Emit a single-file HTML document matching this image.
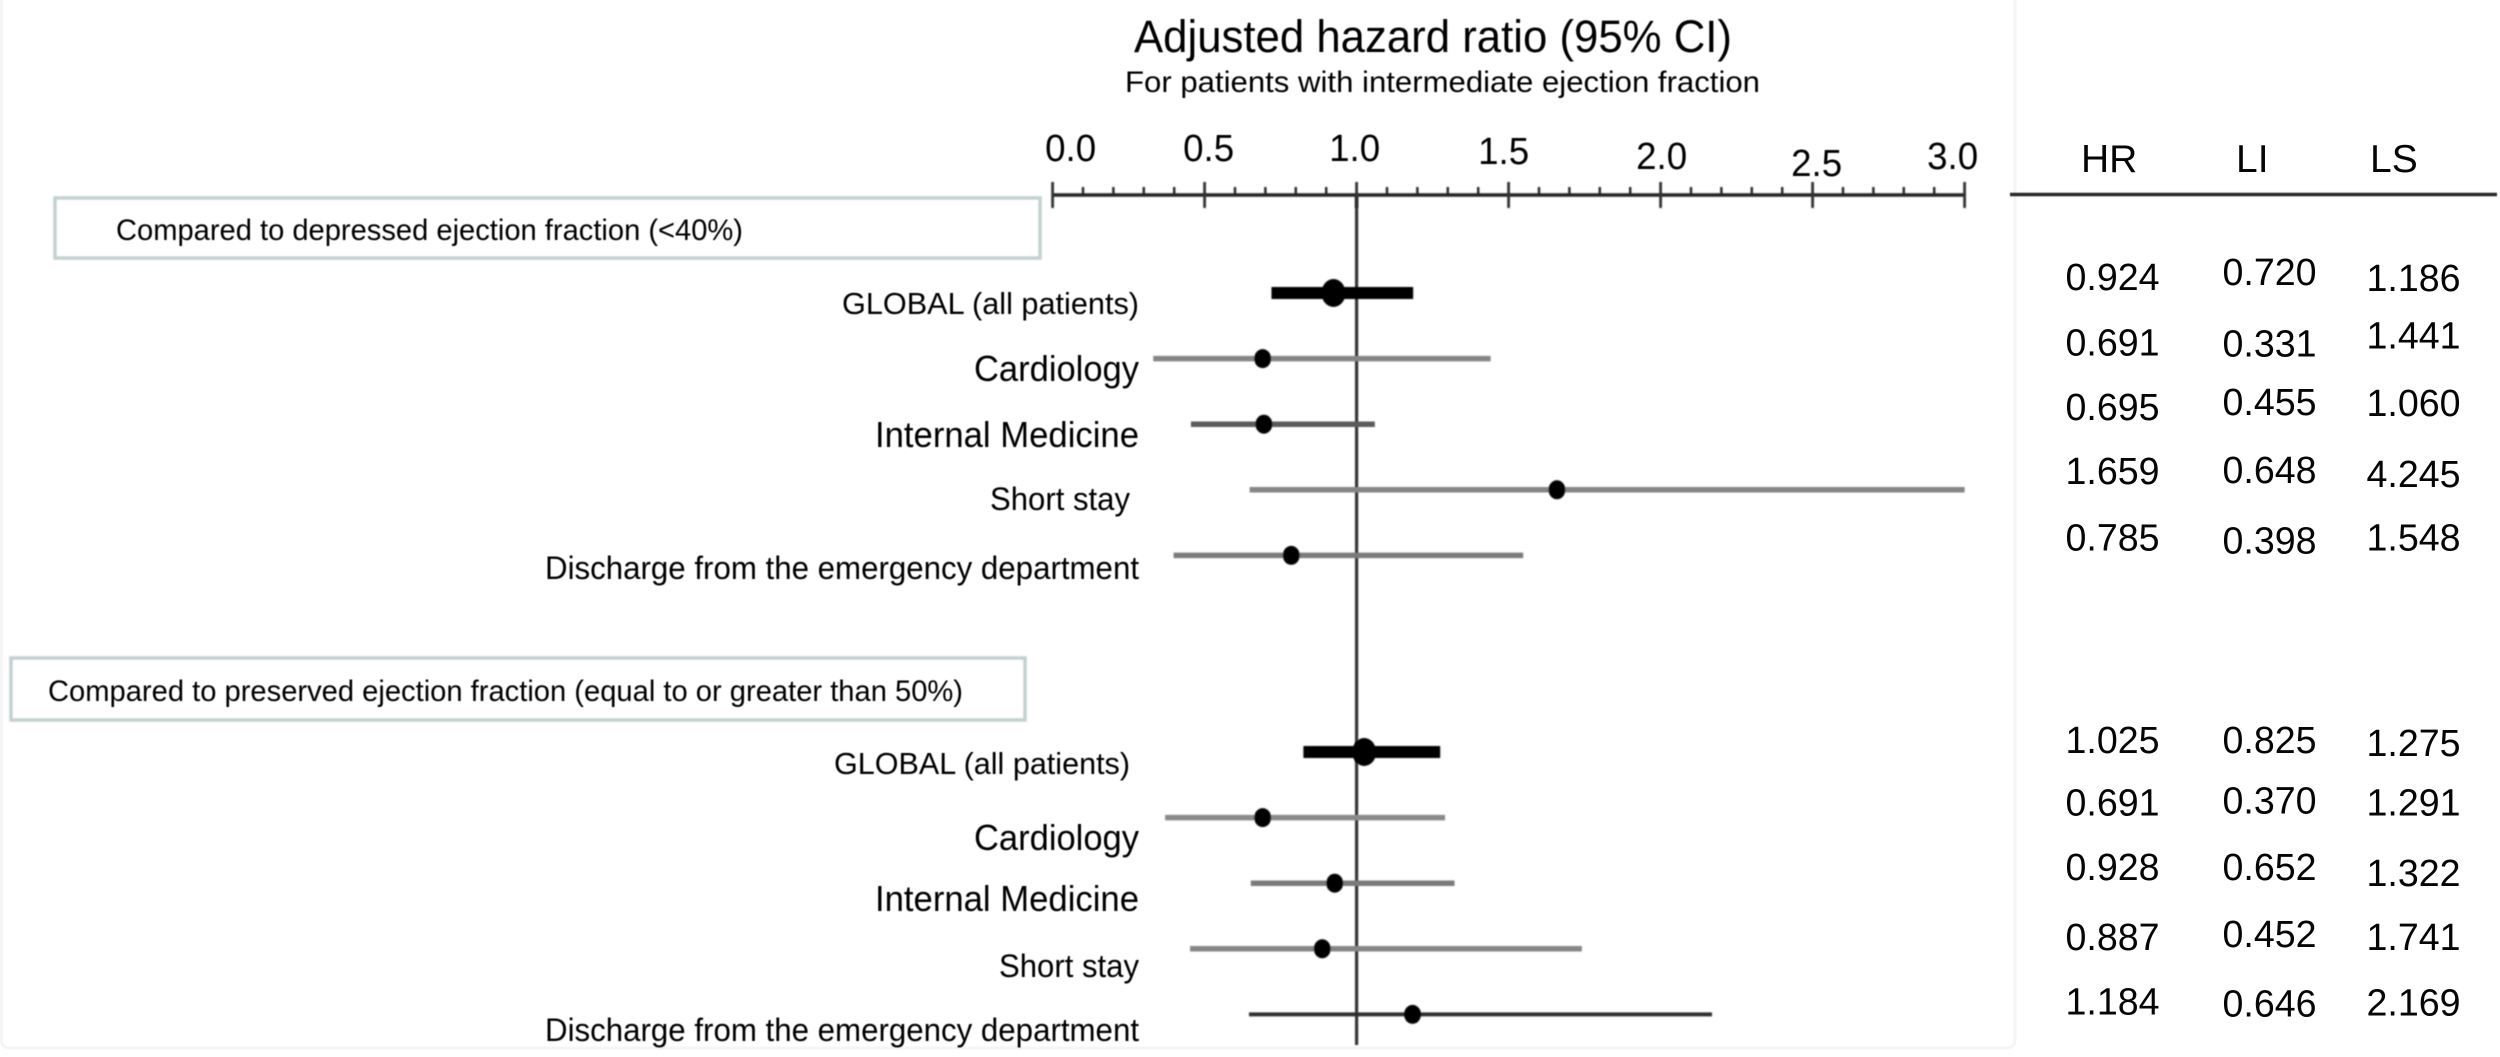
<!DOCTYPE html>
<html lang="en">
<head>
<meta charset="utf-8">
<title>Adjusted hazard ratio forest plot</title>
<style>
  html, body { margin: 0; padding: 0; background: #fff; }
  body { width: 2500px; height: 1057px; overflow: hidden; }
  svg { display: block; font-family: "Liberation Sans", Arial, sans-serif; }
  text { fill: #050505; }
</style>
</head>
<body>
<svg id="chart" width="2500" height="1057" viewBox="0 0 2500 1057" xmlns="http://www.w3.org/2000/svg">
  <defs>
    <filter id="soft" filterUnits="userSpaceOnUse" x="0" y="0" width="2500" height="1057"><feGaussianBlur stdDeviation="0.9"/></filter>
    <filter id="softbox" filterUnits="userSpaceOnUse" x="0" y="0" width="2500" height="1057"><feGaussianBlur stdDeviation="0.7"/></filter>
    <filter id="softtext" filterUnits="userSpaceOnUse" x="0" y="0" width="2500" height="1057"><feGaussianBlur stdDeviation="0.4"/></filter>
  </defs>

  <rect width="2500" height="1057" fill="#ffffff"/>
  <path d="M1.5 0V1040Q1.5 1048 10 1048H2006Q2015 1048 2015 1040V0" fill="none" stroke="#f5f5f5" stroke-width="3"/>

  <g filter="url(#softtext)">
    <text x="1134" y="52" font-size="45" textLength="598" lengthAdjust="spacingAndGlyphs">Adjusted hazard ratio (95% CI)</text>
    <text x="1125" y="92" font-size="30" textLength="635" lengthAdjust="spacingAndGlyphs">For patients with intermediate ejection fraction</text>
  </g>

  <g>
    <rect x="55" y="198" width="985" height="60" fill="#fff" stroke="#c2d0d0" stroke-width="3.5" filter="url(#softbox)"/>
    <text x="116" y="240" font-size="30" textLength="627" lengthAdjust="spacingAndGlyphs" filter="url(#softtext)">Compared to depressed ejection fraction (&lt;40%)</text>
  </g>

  <g>
    <rect x="11" y="658" width="1014" height="62" fill="#fff" stroke="#c2d0d0" stroke-width="3.5" filter="url(#softbox)"/>
    <text x="48" y="701" font-size="30" textLength="915" lengthAdjust="spacingAndGlyphs" filter="url(#softtext)">Compared to preserved ejection fraction (equal to or greater than 50%)</text>
  </g>

  <g filter="url(#softtext)">
    <text x="842" y="314" font-size="31" textLength="297" lengthAdjust="spacingAndGlyphs">GLOBAL (all patients)</text>
    <text x="974" y="381" font-size="36" textLength="165" lengthAdjust="spacingAndGlyphs">Cardiology</text>
    <text x="875" y="447" font-size="36" textLength="264" lengthAdjust="spacingAndGlyphs">Internal Medicine</text>
    <text x="990" y="510" font-size="32" textLength="140" lengthAdjust="spacingAndGlyphs">Short stay</text>
    <text x="545" y="579" font-size="32" textLength="594" lengthAdjust="spacingAndGlyphs">Discharge from the emergency department</text>
  </g>

  <g filter="url(#softtext)">
    <text x="834" y="774" font-size="31" textLength="296" lengthAdjust="spacingAndGlyphs">GLOBAL (all patients)</text>
    <text x="974" y="850" font-size="36" textLength="165" lengthAdjust="spacingAndGlyphs">Cardiology</text>
    <text x="875" y="911" font-size="36" textLength="264" lengthAdjust="spacingAndGlyphs">Internal Medicine</text>
    <text x="999" y="977" font-size="32" textLength="140" lengthAdjust="spacingAndGlyphs">Short stay</text>
    <text x="545" y="1041" font-size="32" textLength="594" lengthAdjust="spacingAndGlyphs">Discharge from the emergency department</text>
  </g>

  <g>
    <text x="2081" y="172" font-size="39">HR</text>
    <text x="2236" y="172" font-size="39">LI</text>
    <text x="2370" y="172" font-size="39">LS</text>
    <line x1="2010" x2="2497" y1="194.5" y2="194.5" stroke="#2a2a2a" stroke-width="3.4" filter="url(#softtext)"/>
  </g>

  <g id="axis"></g>
  <g id="marks"></g>
  <g id="table"></g>
</svg>

<script>
// ---- chart data ----
const categories = ['GLOBAL (all patients)', 'Cardiology', 'Internal Medicine', 'Short stay', 'Discharge from the emergency department'];
const depressedHR = [0.924, 0.691, 0.695, 1.659, 0.785];
const depressedLI = [0.720, 0.331, 0.455, 0.648, 0.398];
const depressedLS = [1.186, 1.441, 1.060, 4.245, 1.548];
const preservedHR = [1.025, 0.691, 0.928, 0.887, 1.184];
const preservedLI = [0.825, 0.370, 0.652, 0.452, 0.646];
const preservedLS = [1.275, 1.291, 1.322, 1.741, 2.169];
const tickValues = [0, 0.5, 1, 1.5, 2, 2.5, 3];
const tickLabels = ['0.0', '0.5', '1.0', '1.5', '2.0', '2.5', '3.0'];
const referenceValue = 1;

// ---- axis functions ----
const AXIS_Y = 195;
const X0 = 1052.6, PX_PER_UNIT = 304;
const domainMax = tickValues[tickValues.length - 1];
function xScale(v) {
  return X0 + Math.min(Math.max(v, 0), domainMax) * PX_PER_UNIT;
}
function rowY(groupIndex, rowIndex) {
  return (groupIndex === 0 ? 293 : 752) + rowIndex * 65.6;
}

const SVG_NS = 'http://www.w3.org/2000/svg';
function make(parent, tag, attrs) {
  const el = document.createElementNS(SVG_NS, tag);
  for (const k in attrs) el.setAttribute(k, attrs[k]);
  parent.appendChild(el);
  return el;
}

function drawAxis() {
  const g = document.getElementById('axis');
  const marks = make(g, 'g', { filter: 'url(#soft)' });
  
  

  const axisLine = make(marks, 'line', { x1: xScale(0), x2: xScale(domainMax), y1: AXIS_Y, y2: AXIS_Y, stroke: '#222', 'stroke-width': 3.6 });
  
  

  // minor ticks every 0.1 between the labelled ticks
  for (let i = 0; i <= Math.round(domainMax * 10); i++) {
    if (i % 5 === 0) continue;
    const x = xScale(i / 10);
    const minor = make(marks, 'line', { x1: x, x2: x, y1: 187, y2: AXIS_Y, stroke: '#222', 'stroke-width': 2.4 });
    
    
  }

  // hand-placement offsets reproduce the drifting baseline of the source labels
  const labelShift = { '0.0': [18, 161], '0.5': [4, 161], '1.0': [-2, 161], '1.5': [-5, 164], '2.0': [1, 169], '2.5': [4, 176], '3.0': [-12, 169] };
  tickValues.forEach(function (v, i) {
    const x = xScale(v);
    const major = make(marks, 'line', { x1: x, x2: x, y1: 182, y2: 208, stroke: '#333', 'stroke-width': 2.8 });
    
    

    const shift = labelShift[tickLabels[i]] || [0, 161];
    const label = make(g, 'text', { x: x + shift[0], y: shift[1], 'font-size': 38, 'text-anchor': 'middle', textLength: 51, lengthAdjust: 'spacingAndGlyphs', filter: 'url(#softtext)' });
    label.textContent = tickLabels[i];
    
    
  });
}

function drawReference() {
  const g = document.getElementById('marks');
  const x = xScale(referenceValue);
  const ref = make(g, 'line', { x1: x, x2: x, y1: AXIS_Y, y2: 1045, stroke: '#333', 'stroke-width': 3.2, filter: 'url(#soft)' });
  
  
}

function drawGroup(groupIndex, hr, li, ls, rowColours) {
  const g = document.getElementById('marks');
  const group = make(g, 'g', { filter: 'url(#soft)' });
  
  

  categories.forEach(function (cat, i) {
    const y = rowY(groupIndex, i);
    const isGlobal = i === 0;
    const ci = make(group, 'line', {
      x1: xScale(li[i]), x2: xScale(ls[i]), y1: y, y2: y,
      stroke: rowColours[i],
      'stroke-width': isGlobal ? 12 : (rowColours[i] === '#2e2e2e' ? 4 : 5.5),
      'stroke-linecap': 'butt'
    });
    
    

    const dot = make(group, 'ellipse', {
      cx: xScale(hr[i]), cy: y,
      rx: isGlobal ? 12 : 8.5,
      ry: isGlobal ? 14 : 9.5,
      fill: '#000'
    });
    
    
  });
}

function drawTable(groupIndex, columns, nudges) {
  const g = document.getElementById('table');
  const columnX = [2065.5, 2222.5, 2366.5];
  const columnNames = ['hr', 'li', 'ls'];
  columns.forEach(function (values, c) {
    values.forEach(function (v, i) {
      const cell = make(g, 'text', { x: columnX[c], y: rowY(groupIndex, i) + nudges[c][i], 'font-size': 37.6 });
      cell.textContent = v.toFixed(3);
      
      
    });
  });
}

drawAxis();
drawReference();
drawGroup(0, depressedHR, depressedLI, depressedLS, ['#000', '#858585', '#5a5a5a', '#858585', '#7a7a7a']);
drawGroup(1, preservedHR, preservedLI, preservedLS, ['#000', '#8a8a8a', '#7a7a7a', '#858585', '#2e2e2e']);
drawTable(0, [depressedHR, depressedLI, depressedLS], [[-3, -3, -4, -6, -5], [-8, -2, -9, -7, -2], [-2, -10, -8, -3, -5]]);
drawTable(1, [preservedHR, preservedLI, preservedLS], [[1, -2, -3, 1, 0], [1, -4, -3, -2, 2], [4, -2, 3, 1, 1]]);
</script>
</body>
</html>
